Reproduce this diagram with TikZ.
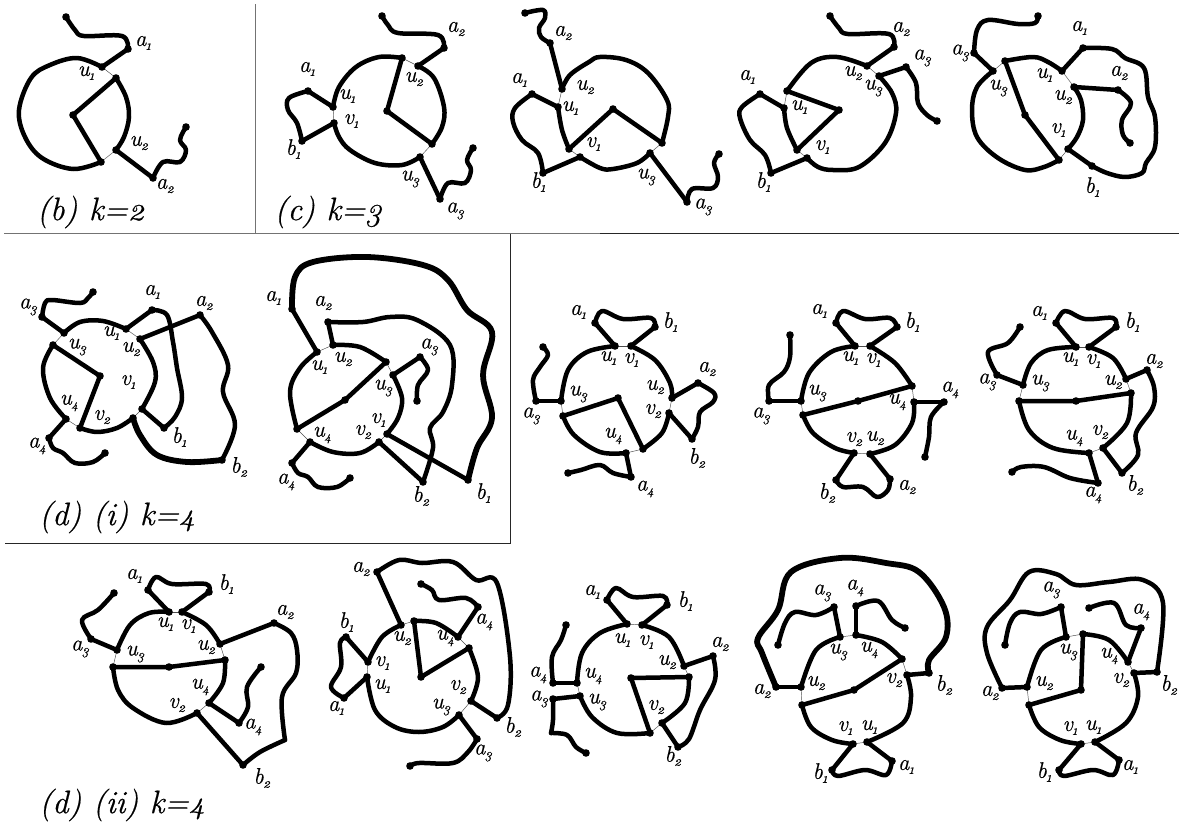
\documentclass[tikz,border=0pt]{standalone}
\usepackage{fontspec}
\setmainfont{Latin Modern Roman}[Numbers=OldStyle,ItalicFeatures={FakeBold=0.5}]
\tikzset{
  wire/.style={line width=4.5pt,line cap=round,line join=round,black},
  heavy/.style={wire,line width=5.8pt},
  thinl/.style={line width=.45pt,black!70},
  lab/.style={font=\fontsize{22.5}{22.5}\selectfont\itshape,inner sep=0pt,text=black},
  captxt/.style={font=\fontsize{32.5}{32.5}\selectfont\itshape,inner sep=0pt,text=black},
  frameg/.style={line width=1.6pt,black!55},
  framek/.style={line width=.9pt,black!85}
}
\newcount\labn
\newcommand\Cv[1]{\draw[wire] plot[smooth,tension=.6] coordinates {#1};}
\newcommand\Hv[1]{\draw[heavy] plot[smooth,tension=.6] coordinates {#1};}
\newcommand\St[1]{\draw[wire] #1;}
\newcommand\Th[1]{\draw[thinl] #1;}
\newcommand\Dt[1]{\foreach \p/\q in {#1}{\fill[black] (\p,\q) circle (3.8pt);}}
\newcommand\Lb[4]{\global\advance\labn by 1
  \node[lab] (lab\the\labn) at (#1,#2) {#3\kern-.5pt\raisebox{-4pt}{\fontsize{14}{14}\selectfont #4}};}
\begin{document}
\begin{tikzpicture}[x=1pt,y=-1pt]
\useasboundingbox (0,0) rectangle (1179,827);
\fill[white] (0,0) rectangle (1179,827);
% frames
\draw[frameg] (255.5,4) -- (255.5,233);
\draw[frameg] (4,233.5) -- (600,233.5);
\draw[framek] (600,233.5) -- (1179,233.5);
\draw[framek] (510.5,233.5) -- (510.5,543);
\draw[framek] (5,543) -- (510.5,543);

% (b)
\Cv{(102,67) (77,58) (50,65) (31,78) (19,110) (25,137) (42,158) (73,169) (101,162)}
\Cv{(116,78) (126,97) (129,117) (124,137) (116,150)}
\St{(116,78) -- (73,115) -- (101,162)}
\St{(102,67) -- (128,49)}
\Cv{(128,49) (122,36) (84,36) (75,30) (66,17)}
\St{(116,150) -- (153,178)}
\Cv{(153,178) (163,162) (180,162) (186,150) (180,140) (186,127)}
\Th{(102,67) -- (116,78)} \Th{(101,162) -- (116,150)}
\Dt{102/67,116/78,73/115,101/162,116/150,128/49,66/17,153/178,186/127}
\Lb{143}{43}{a}{1} \Lb{86}{73}{u}{1} \Lb{139}{143}{u}{2} \Lb{165}{186}{a}{2}
\node[captxt] (capb) at (91,212) {(b) k=2};

% (c) 1
\Cv{(333,107) (339,87) (356,67) (379,57) (402,58)}
\St{(402,58) -- (387,111) -- (432,144)}
\Cv{(418,66) (434,78) (444,107) (442,127) (432,144)}
\Cv{(420,157) (402,165) (375,163) (350,150) (339,137) (334,123)}
\St{(418,66) -- (444,48)}
\Cv{(444,48) (438,35) (398,33) (388,25) (382,16)}
\St{(420,157) -- (440,199)}
\Cv{(440,199) (448,183) (465,183) (471,170) (467,160) (473,148)}
\St{(333,107) -- (308,91)}
\Cv{(308,91) (289,98) (288,110) (297,123) (302,141)}
\St{(302,141) -- (334,123)}
\Th{(402,58) -- (418,66)} \Th{(432,144) -- (420,157)} \Th{(333,107) -- (334,123)}
\Dt{333/107,334/123,402/58,418/66,387/111,432/144,420/157,444/48,382/16,440/199,473/148,308/91,302/141}
\Lb{307}{69}{a}{1} \Lb{293}{149}{b}{1} \Lb{347}{96}{u}{1} \Lb{351}{121}{v}{1}
\Lb{414}{79}{u}{2} \Lb{410}{179}{u}{3} \Lb{456}{29}{a}{2} \Lb{455}{211}{a}{3}
\node[captxt] (capc) at (328,212) {(c) k=3};

% (c) 2
\Cv{(525,13) (543,10) (545,18) (539,28) (541,37) (550,43)}
\St{(550,43) -- (562,89)}
\Cv{(562,89) (570,75) (589,62) (600,57) (626,60) (648,73) (667,100) (668,117) (662,143)}
\St{(662,143) -- (613,109) -- (569,149)}
\Cv{(558,107) (562,130) (569,149)}
\Cv{(580,157) (600,168) (613,169) (637,163) (650,153)}
\St{(650,153) -- (687,202)}
\Cv{(687,202) (692,189) (713,188) (718,177) (714,163) (719,154)}
\St{(558,107) -- (532,94)}
\Cv{(532,94) (515,108) (513,122) (522,140) (538,153) (543,173)}
\St{(543,173) -- (580,157)}
\Th{(562,89) -- (558,107)} \Th{(569,149) -- (580,157)} \Th{(650,153) -- (662,143)}
\Dt{525/13,550/43,562/89,558/107,569/149,580/157,613/109,662/143,650/153,687/202,719/154,532/94,543/173}
\Lb{563}{33}{a}{2} \Lb{519}{80}{a}{1} \Lb{585}{87}{u}{2} \Lb{570}{108}{u}{1}
\Lb{593}{144}{v}{1} \Lb{646}{177}{u}{3} \Lb{703}{207}{a}{3} \Lb{538}{182}{b}{1}

% (c) 3
\St{(867,66) -- (894,47)}
\Cv{(894,47) (889,34) (848,34) (839,28) (830,16)}
\St{(879,76) -- (906,67)}
\Cv{(906,67) (916,83) (918,103) (927,115) (937,121)}
\Cv{(867,66) (837,57) (811,63) (787,91)}
\St{(787,91) -- (839,110) -- (797,150)}
\Cv{(784,108) (787,128) (797,150)}
\Cv{(879,76) (892,93) (896,113) (885,143) (859,167) (833,170) (818,167) (807,158)}
\St{(784,108) -- (760,94)}
\Cv{(760,94) (742,107) (740,118) (750,140) (765,155) (771,173)}
\St{(771,173) -- (807,158)}
\Th{(867,66) -- (879,76)} \Th{(787,91) -- (784,108)} \Th{(797,150) -- (807,158)}
\Dt{867/66,879/76,894/47,830/16,906/67,937/121,787/91,784/108,839/110,797/150,807/158,760/94,771/173}
\Lb{747}{77}{a}{1} \Lb{763}{182}{b}{1} \Lb{799}{107}{u}{1} \Lb{822}{147}{v}{1}
\Lb{853}{73}{u}{2} \Lb{873}{88}{u}{3} \Lb{901}{29}{a}{2} \Lb{922}{58}{a}{3}

% (c) 4
\St{(993,71) -- (974,53)}
\Cv{(974,53) (977,30) (988,20) (1018,24) (1035,23) (1038,16)}
\Cv{(993,71) (977,87) (972,110) (977,137) (998,158) (1025,170) (1044,167) (1059,160)}
\St{(1005,61) -- (1025,115) -- (1059,160)}
\Cv{(1005,61) (1033,57) (1048,62) (1062,71)}
\Cv{(1074,87) (1081,100) (1083,120) (1077,137) (1068,149)}
\St{(1062,71) -- (1083,48)}
\Cv{(1083,48) (1112,49) (1125,58) (1144,68) (1148,97) (1155,117) (1155,147) (1146,163) (1142,173) (1125,177) (1107,173) (1092,166)}
\St{(1092,166) -- (1068,149)}
\St{(1074,87) -- (1118,90)}
\Cv{(1118,90) (1131,103) (1122,120) (1123,135) (1130,143)}
\Th{(1062,71) -- (1074,87)} \Th{(1059,160) -- (1068,149)} \Th{(993,71) -- (1005,61)}
\Dt{993/71,974/53,1038/16,1005/61,1025/115,1059/160,1062/71,1074/87,1068/149,1083/48,1092/166,1118/90,1130/143}
\Lb{960}{53}{a}{3} \Lb{1079}{28}{a}{1} \Lb{1119}{73}{a}{2} \Lb{1044}{75}{u}{1}
\Lb{1063}{97}{u}{2} \Lb{998}{88}{u}{3} \Lb{1058}{130}{v}{1} \Lb{1092}{187}{b}{1}

% (d)(i) 1
\St{(64,333) -- (42,317)}
\Cv{(42,317) (45,303) (52,300) (80,303) (88,298) (93,292)}
\Cv{(64,333) (80,322) (103,321) (126,329)}
\St{(126,329) -- (152,310)}
\Cv{(152,310) (167,315) (173,342) (177,368) (182,398) (175,417) (164,428)}
\St{(164,428) -- (142,409)}
\St{(140,339) -- (200,315)}
\Cv{(200,315) (212,332) (228,365) (223,392) (235,425) (222,460)}
\Hv{(222,460) (187,462) (157,455) (140,435) (133,418)}
\Cv{(140,339) (153,362) (155,382) (142,409)}
\Cv{(133,418) (117,428) (97,432) (80,428)}
\St{(80,428) -- (100,376) -- (53,345)}
\Cv{(53,345) (43,368) (50,398) (66,419)}
\St{(66,419) -- (49,438)}
\Cv{(49,438) (53,448) (63,453) (75,463) (93,462) (105,453)}
\Th{(64,333) -- (53,345)} \Th{(126,329) -- (140,339)} \Th{(142,409) -- (133,418)} \Th{(80,428) -- (66,419)}
\Dt{64/333,42/317,93/292,126/329,152/310,164/428,142/409,140/339,200/315,222/460,133/418,80/428,100/376,53/345,66/419,49/438,105/453}
\Lb{28}{307}{a}{3} \Lb{152}{292}{a}{1} \Lb{204}{303}{a}{2} \Lb{77}{347}{u}{3}
\Lb{111}{333}{u}{1} \Lb{131}{349}{u}{2} \Lb{128}{382}{v}{1} \Lb{69}{403}{u}{4}
\Lb{102}{417}{v}{2} \Lb{179}{437}{b}{1} \Lb{239}{467}{b}{2} \Lb{37}{446}{a}{4}
\node[captxt] (capdi) at (117,517) {(d) (i) k=4};

% (d)(i) 2
\St{(317,352) -- (292,309)}
\Hv{(292,309) (295,277) (313,262) (367,257) (423,265) (448,280) (467,310) (492,332) (483,375) (492,418) (477,448) (468,480)}
\St{(468,480) -- (387,434)}
\St{(333,345) -- (328,322)}
\Cv{(328,322) (363,322) (390,317) (417,320) (450,345) (452,385) (443,412) (430,428) (433,448) (423,482)}
\St{(423,482) -- (379,442)}
\St{(393,375) -- (420,357)}
\Cv{(420,357) (428,370) (418,385) (417,401)}
\Cv{(317,352) (300,368) (290,392) (297,429)}
\St{(297,429) -- (345,400) -- (386,362)}
\Cv{(333,345) (360,347) (386,362)}
\Cv{(393,375) (402,398) (398,418) (387,434)}
\Cv{(379,442) (360,453) (333,452) (310,442)}
\St{(310,442) -- (292,463)}
\Cv{(292,463) (298,473) (308,477) (318,487) (337,487) (350,478)}
\Th{(317,352) -- (333,345)} \Th{(386,362) -- (393,375)} \Th{(387,434) -- (379,442)} \Th{(310,442) -- (297,429)}
\Dt{317/352,292/309,468/480,387/434,333/345,328/322,423/482,379/442,393/375,420/357,417/401,297/429,345/400,386/362,310/442,292/463,350/478}
\Lb{273}{298}{a}{1} \Lb{323}{303}{a}{2} \Lb{319}{367}{u}{1} \Lb{343}{359}{u}{2}
\Lb{429}{347}{a}{3} \Lb{383}{388}{u}{3} \Lb{378}{420}{v}{1} \Lb{363}{432}{v}{2}
\Lb{322}{435}{u}{4} \Lb{286}{482}{a}{4} \Lb{421}{496}{b}{2} \Lb{483}{493}{b}{1}

% fig 8
\Cv{(615,346) (587,352) (568,370) (561,401)}
\St{(615,346) -- (595,323)}
\Cv{(595,323) (602,311) (623,319) (651,318) (655,327)}
\St{(655,327) -- (631,346)}
\Cv{(631,346) (655,360) (670,383) (672,398)}
\St{(672,398) -- (698,383)}
\Cv{(698,383) (714,393) (713,402) (700,412) (698,427) (692,439)}
\St{(692,439) -- (669,413)}
\Cv{(669,413) (662,433) (643,449)}
\St{(643,449) -- (618,398) -- (563,416)}
\Cv{(563,416) (574,435) (600,452) (626,453)}
\St{(626,453) -- (631,477)}
\Cv{(631,477) (613,473) (600,465) (581,470) (568,473)}
\St{(561,401) -- (536,401)}
\Cv{(536,401) (533,380) (540,367) (548,355) (543,347)}
\Th{(561,401) -- (563,416)} \Th{(615,346) -- (631,346)} \Th{(672,398) -- (669,413)} \Th{(626,453) -- (643,449)}
\Dt{615/346,595/323,655/327,631/346,672/398,698/383,692/439,669/413,643/449,618/398,563/416,626/453,631/477,568/473,561/401,536/401,543/347}
\Lb{578}{312}{a}{1} \Lb{670}{322}{b}{1} \Lb{608}{358}{u}{1} \Lb{631}{360}{v}{1}
\Lb{578}{394}{u}{3} \Lb{655}{387}{u}{2} \Lb{653}{411}{v}{2} \Lb{707}{369}{a}{2}
\Lb{697}{458}{b}{2} \Lb{613}{436}{u}{4} \Lb{645}{489}{a}{4} \Lb{531}{416}{a}{3}

% fig 9
\St{(801,401) -- (769,401)}
\Cv{(769,401) (769,385) (784,372) (790,357) (790,335)}
\Cv{(801,401) (809,373) (831,352) (855,346)}
\St{(855,346) -- (836,323)}
\Cv{(836,323) (843,311) (865,319) (890,318) (897,327)}
\St{(897,327) -- (870,346)}
\Cv{(870,346) (895,363) (912,386)}
\St{(912,386) -- (858,401) -- (803,415)}
\Cv{(803,415) (813,433) (835,448) (854,453)}
\St{(854,453) -- (836,480)}
\Cv{(836,480) (843,487) (863,487) (877,497) (888,490) (890,479)}
\St{(890,479) -- (870,454)}
\Cv{(870,454) (895,445) (912,423) (914,402)}
\St{(914,402) -- (944,402)}
\Cv{(944,402) (931,417) (929,437) (925,457)}
\Th{(801,401) -- (803,415)} \Th{(855,346) -- (870,346)} \Th{(912,386) -- (914,402)} \Th{(854,453) -- (870,454)}
\Dt{801/401,769/401,790/335,855/346,836/323,897/327,870/346,912/386,858/401,803/415,854/453,836/480,890/479,870/454,914/402,944/402,925/457}
\Lb{819}{311}{a}{1} \Lb{912}{322}{b}{1} \Lb{850}{358}{u}{1} \Lb{873}{360}{v}{1}
\Lb{817}{393}{u}{3} \Lb{950}{390}{a}{4} \Lb{897}{402}{u}{4} \Lb{761}{416}{a}{3}
\Lb{854}{439}{v}{2} \Lb{875}{438}{u}{2} \Lb{827}{493}{b}{2} \Lb{907}{487}{a}{2}

% fig 10
\St{(1076,347) -- (1056,323)}
\Cv{(1056,323) (1065,311) (1085,319) (1113,318) (1116,327)}
\St{(1116,327) -- (1089,347)}
\Cv{(1076,347) (1048,350) (1031,363) (1023,385)}
\St{(1023,385) -- (997,375)}
\Cv{(997,375) (988,352) (1008,343) (1020,327)}
\Cv{(1089,347) (1113,358) (1126,379)}
\St{(1126,379) -- (1147,370)}
\Cv{(1147,370) (1154,387) (1153,407) (1136,433) (1138,455) (1122,473)}
\St{(1122,473) -- (1103,448)}
\St{(1131,393) -- (1076,401) -- (1019,401)}
\Cv{(1131,393) (1127,423) (1103,448)}
\Cv{(1019,401) (1029,430) (1053,448) (1089,453)}
\St{(1089,453) -- (1098,483)}
\Cv{(1098,483) (1070,478) (1044,467) (1021,467) (1012,472)}
\Th{(1023,385) -- (1019,401)} \Th{(1076,347) -- (1089,347)} \Th{(1126,379) -- (1131,393)} \Th{(1089,453) -- (1103,448)}
\Dt{1076/347,1056/323,1116/327,1089/347,1023/385,997/375,1020/327,1126/379,1147/370,1122/473,1103/448,1131/393,1076/401,1019/401,1089/453,1098/483,1012/472}
\Lb{1039}{313}{a}{1} \Lb{1132}{322}{b}{1} \Lb{1070}{359}{u}{1} \Lb{1093}{361}{v}{1}
\Lb{1154}{361}{a}{2} \Lb{1113}{382}{u}{2} \Lb{1040}{383}{u}{3} \Lb{987}{382}{a}{3}
\Lb{1074}{438}{u}{4} \Lb{1100}{432}{v}{2} \Lb{1135}{485}{b}{2} \Lb{1093}{495}{a}{4}

% fig 11
\St{(169,612) -- (148,590)}
\Cv{(148,590) (156,577) (172,584) (206,584) (209,592)}
\St{(209,592) -- (182,612)}
\Cv{(169,612) (149,613) (130,625) (117,650)}
\St{(117,650) -- (91,639)}
\Cv{(91,639) (82,620) (98,610) (114,593)}
\Cv{(182,612) (206,625) (220,644)}
\St{(220,644) -- (274,623)}
\Cv{(274,623) (291,633) (297,650) (296,673) (282,697) (285,740)}
\Cv{(285,740) (260,752) (243,765)}
\St{(243,765) -- (197,713)}
\St{(225,660) -- (169,667) -- (113,667)}
\Cv{(225,660) (223,683) (209,703)}
\St{(209,703) -- (239,723)}
\Cv{(239,723) (248,707) (247,687) (261,667)}
\Cv{(113,667) (118,690) (133,708) (166,723) (197,713)}
\Th{(169,612) -- (182,612)} \Th{(117,650) -- (113,667)} \Th{(220,644) -- (225,660)} \Th{(209,703) -- (197,713)}
\Dt{169/612,148/590,209/592,182/612,117/650,91/639,114/593,220/644,274/623,243/765,197/713,225/660,169/667,113/667,209/703,239/723,261/667}
\Lb{134}{576}{a}{1} \Lb{226}{584}{b}{1} \Lb{80}{649}{a}{3} \Lb{165}{624}{u}{1}
\Lb{188}{626}{v}{1} \Lb{135}{654}{u}{3} \Lb{206}{647}{u}{2} \Lb{285}{612}{a}{2}
\Lb{200}{687}{u}{4} \Lb{177}{705}{v}{2} \Lb{253}{727}{a}{4} \Lb{262}{778}{b}{2}
\node[captxt] (capdii) at (122,805) {(d) (ii) k=4};

% fig 12
\St{(401,625) -- (377,572)}
\Cv{(377,572) (399,560) (422,563) (453,562) (476,580) (497,583) (510,657) (508,705) (497,718)}
\St{(497,718) -- (471,701)}
\St{(458,637) -- (478,607)}
\Cv{(478,607) (466,598) (439,600) (432,590) (421,584)}
\St{(414,621) -- (421,677) -- (469,648)}
\Cv{(414,621) (436,623) (458,637)}
\Cv{(469,648) (478,677) (471,701)}
\Cv{(459,715) (443,727) (419,732) (395,727) (375,710) (367,677)}
\Cv{(401,625) (382,637) (368,662)}
\St{(368,662) -- (346,637)}
\Cv{(346,637) (340,643) (341,667) (331,687) (344,698)}
\St{(344,698) -- (367,677)}
\St{(459,715) -- (477,739)}
\Cv{(477,739) (468,752) (453,763) (419,763) (410,766)}
\Th{(401,625) -- (414,621)} \Th{(458,637) -- (469,648)} \Th{(471,701) -- (459,715)} \Th{(368,662) -- (367,677)}
\Dt{401/625,377/572,497/718,471/701,458/637,478/607,421/584,414/621,421/677,469/648,459/715,367/677,368/662,346/637,344/698,477/739,410/766}
\Lb{361}{569}{a}{2} \Lb{346}{622}{b}{1} \Lb{382}{663}{v}{1} \Lb{382}{686}{u}{1}
\Lb{336}{708}{a}{1} \Lb{402}{638}{u}{2} \Lb{445}{638}{u}{4} \Lb{484}{622}{a}{4}
\Lb{458}{687}{v}{2} \Lb{441}{707}{u}{3} \Lb{513}{727}{b}{2} \Lb{483}{753}{a}{3}

% fig 13
\St{(627,624) -- (607,600)}
\Cv{(607,600) (616,588) (633,597) (663,596) (667,605)}
\St{(667,605) -- (642,625)}
\Cv{(627,624) (600,633) (582,653) (577,683)}
\St{(577,683) -- (553,683)}
\Cv{(553,683) (552,657) (561,640) (566,625)}
\St{(580,696) -- (553,699)}
\Cv{(553,699) (553,720) (551,733)}
\Cv{(551,733) (567,735) (576,747) (586,753)}
\Cv{(580,696) (592,717) (617,733) (650,733)}
\St{(650,733) -- (631,678) -- (689,677)}
\Cv{(642,625) (669,637) (684,666)}
\St{(684,666) -- (713,656)}
\Cv{(713,656) (715,680) (700,710) (689,739) (678,747)}
\St{(678,747) -- (662,723)}
\Cv{(689,677) (685,703) (662,723)}
\Th{(627,624) -- (642,625)} \Th{(577,683) -- (580,696)} \Th{(684,666) -- (689,677)} \Th{(650,733) -- (662,723)}
\Dt{627/624,607/600,667/605,642/625,577/683,553/683,566/625,580/696,553/699,586/753,650/733,631/678,689/677,684/666,713/656,678/747,662/723}
\Lb{592}{592}{a}{1} \Lb{685}{601}{b}{1} \Lb{622}{640}{u}{1} \Lb{646}{642}{v}{1}
\Lb{720}{644}{a}{2} \Lb{667}{662}{u}{2} \Lb{538}{675}{a}{4} \Lb{593}{676}{u}{4}
\Lb{539}{699}{a}{3} \Lb{597}{702}{u}{3} \Lb{656}{707}{v}{2} \Lb{673}{756}{b}{2}

% fig 14
\St{(801,687) -- (776,687)}
\Hv{(776,687) (762,653) (758,638) (778,610) (791,572) (840,558) (886,563) (919,572) (944,607) (946,637) (929,660) (929,673)}
\St{(929,673) -- (907,675)}
\St{(840,637) -- (834,607)}
\Cv{(834,607) (816,615) (795,612) (785,623) (778,645)}
\St{(856,635) -- (856,606)}
\Cv{(856,606) (878,601) (892,620) (905,628)}
\Cv{(840,637) (816,650) (801,687)}
\St{(802,705) -- (854,690) -- (902,659)}
\Cv{(856,635) (882,642) (902,659)}
\Cv{(907,675) (911,697) (903,723) (867,742)}
\Cv{(802,705) (811,727) (832,740) (853,744)}
\St{(853,744) -- (832,770)}
\Cv{(832,770) (838,776) (865,770) (886,775) (892,761)}
\St{(892,761) -- (867,742)}
\Th{(840,637) -- (856,635)} \Th{(801,687) -- (802,705)} \Th{(902,659) -- (907,675)} \Th{(853,744) -- (867,742)}
\Dt{801/687,776/687,929/673,907/675,840/637,834/607,778/645,856/635,856/606,905/628,802/705,854/690,902/659,867/742,853/744,832/770,892/761}
\Lb{822}{593}{a}{3} \Lb{855}{588}{a}{4} \Lb{838}{652}{u}{3} \Lb{869}{650}{u}{4}
\Lb{816}{683}{u}{2} \Lb{894}{680}{v}{2} \Lb{762}{691}{a}{2} \Lb{944}{685}{b}{2}
\Lb{845}{728}{v}{1} \Lb{869}{727}{u}{1} \Lb{820}{773}{b}{1} \Lb{906}{767}{a}{1}

% fig 15
\St{(1027,687) -- (1002,688)}
\Cv{(1002,688) (987,653) (987,627) (1010,600) (1029,572) (1056,574) (1076,585) (1109,582) (1143,580) (1163,603) (1157,672)}
\St{(1157,672) -- (1134,673)}
\St{(1066,637) -- (1061,607)}
\Cv{(1061,607) (1041,614) (1020,612) (1010,623) (1005,645)}
\St{(1128,662) -- (1141,628)}
\Cv{(1141,628) (1126,625) (1114,603) (1089,608)}
\Cv{(1066,637) (1041,650) (1027,687)}
\St{(1029,705) -- (1081,690) -- (1083,634)}
\Cv{(1083,634) (1109,640) (1128,662)}
\Cv{(1134,673) (1138,697) (1126,723) (1095,742)}
\Cv{(1029,705) (1039,727) (1060,740) (1081,744)}
\St{(1081,744) -- (1059,770)}
\Cv{(1059,770) (1064,776) (1093,770) (1113,775) (1119,760)}
\St{(1119,760) -- (1095,742)}
\Th{(1066,637) -- (1083,634)} \Th{(1027,687) -- (1029,705)} \Th{(1128,662) -- (1134,673)} \Th{(1081,744) -- (1095,742)}
\Dt{1027/687,1002/688,1157/672,1134/673,1066/637,1061/607,1005/645,1128/662,1141/628,1089/608,1029/705,1081/690,1083/634,1095/742,1081/744,1059/770,1119/760}
\Lb{1051}{590}{a}{3} \Lb{1141}{612}{a}{4} \Lb{1068}{652}{u}{3} \Lb{1109}{656}{u}{4}
\Lb{1044}{683}{u}{2} \Lb{1121}{680}{v}{2} \Lb{990}{693}{a}{2} \Lb{1169}{685}{b}{2}
\Lb{1070}{728}{v}{1} \Lb{1093}{727}{u}{1} \Lb{1044}{772}{b}{1} \Lb{1130}{767}{a}{1}
\end{tikzpicture}
\end{document}
